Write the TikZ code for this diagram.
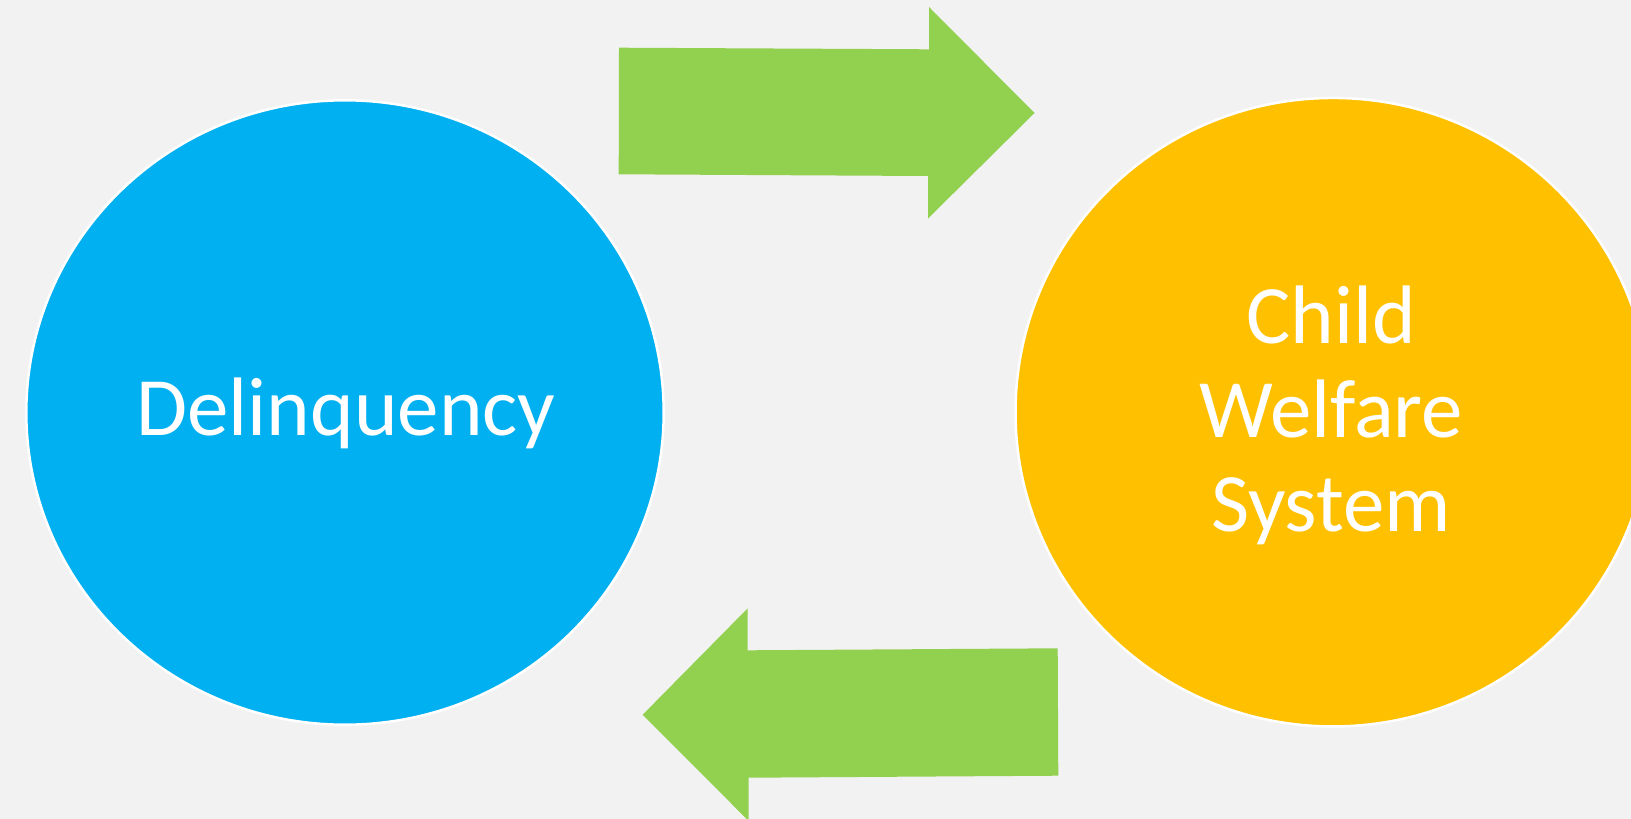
\documentclass[tikz,border=0pt]{standalone}
\usepackage{fontspec}
\setmainfont{Carlito}
\usetikzlibrary{shapes.geometric}
\definecolor{bgc}{HTML}{F2F2F2}
\definecolor{blueC}{HTML}{00B0F0}
\definecolor{goldC}{HTML}{FFC000}
\definecolor{greenC}{HTML}{92D050}
\tikzset{
  bubble/.style={ellipse, draw=white, line width=2.5pt, inner sep=0pt},
  bigtext/.style={text=white, font=\fontsize{83}{94}\selectfont, inner sep=0pt, align=center},
  blockarrow/.style={fill=greenC, draw=none}
}
\begin{document}
\begin{tikzpicture}[x=1pt,y=-1pt]
\useasboundingbox (0,0) rectangle (1631,819);
\fill[bgc] (0,0) rectangle (1631,819);
\clip (0,0) rectangle (1631,819);
% circles
\node[bubble, fill=blueC, minimum width=637.4pt, minimum height=624.4pt] (deli) at (345,412.5) {};
\node[bubble, fill=goldC, minimum width=635pt, minimum height=628.5pt] (cws) at (1333,412.2) {};
% texts
\node[bigtext, anchor=base] (delitext) at (346,435) {Delinquency};
\node[bigtext, anchor=base] (cwstext) at (1331,531) {Child\\Welfare\\System};
% block arrows
\path[blockarrow] (619,47.7) -- (929,49.3) -- (929,7) -- (1034.5,113) -- (928,218.5) -- (928,176) -- (618.7,174.3) -- cycle;
\path[blockarrow] (642.7,714.7) -- (747.7,608.3) -- (747.7,650.3) -- (1057.7,648.3) -- (1058.3,775.7) -- (748.7,777.7) -- (748.7,821) -- cycle;
\end{tikzpicture}
\end{document}
